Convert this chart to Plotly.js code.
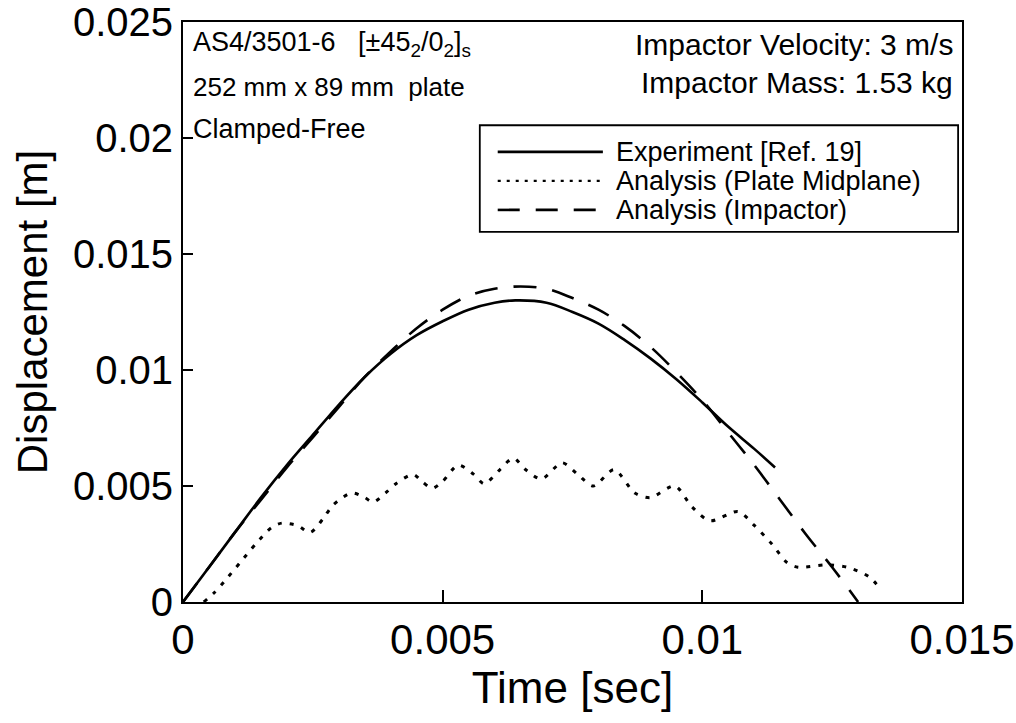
<!DOCTYPE html>
<html>
<head>
<meta charset="utf-8">
<script src="https://cdn.plot.ly/plotly-3.0.1.min.js"></script>
<style>html,body{margin:0;padding:0;background:#fff;}#chart{width:1016px;height:723px;}</style>
</head>
<body>
<div id="chart"></div>
<script>
// Experiment [Ref. 19]
const expTime = [0, 0.0005, 0.001, 0.0015, 0.002, 0.0025, 0.003, 0.0035, 0.004, 0.0045, 0.005, 0.0055, 0.006, 0.0064, 0.007, 0.0075, 0.008, 0.0085, 0.009, 0.0095, 0.010, 0.0105, 0.011, 0.0114];
const expDisp = [0, 0.0015, 0.0030, 0.0045, 0.0059, 0.0072, 0.0085, 0.0097, 0.0107, 0.0115, 0.0121, 0.0126, 0.0129, 0.0130, 0.0129, 0.0125, 0.0120, 0.0113, 0.0105, 0.0096, 0.0086, 0.00755, 0.0066, 0.0058];

// Analysis (Plate Midplane)
const plateTime = [0.0004, 0.0006, 0.0008, 0.0011, 0.0014, 0.0017, 0.0019, 0.0022, 0.00245, 0.0027, 0.0029, 0.00325, 0.0035, 0.00366, 0.0039, 0.0041, 0.00443, 0.0046, 0.0048, 0.005, 0.0053, 0.0056, 0.0058, 0.0061, 0.00636, 0.0066, 0.0069, 0.0073, 0.0076, 0.0079, 0.0083, 0.0087, 0.0090, 0.00947, 0.0098, 0.01015, 0.01069, 0.0110, 0.01134, 0.01163, 0.01184, 0.0124, 0.01279, 0.0132, 0.01342];
const plateDisp = [0, 0.0004, 0.0009, 0.0017, 0.0025, 0.0032, 0.0034, 0.0033, 0.0030, 0.0036, 0.0042, 0.0047, 0.0045, 0.0043, 0.0047, 0.0051, 0.0055, 0.0052, 0.0049, 0.0052, 0.0059, 0.0055, 0.0051, 0.0057, 0.0062, 0.0057, 0.0053, 0.0060, 0.0055, 0.0050, 0.0057, 0.0047, 0.0045, 0.0050, 0.0041, 0.0035, 0.0039, 0.0033, 0.0025, 0.0017, 0.0015, 0.0016, 0.0015, 0.0011, 0.0006];

// Analysis (Impactor)
const impTime = [0, 0.0005, 0.001, 0.0015, 0.002, 0.0025, 0.003, 0.0035, 0.004, 0.0045, 0.005, 0.0055, 0.006, 0.0065, 0.007, 0.0075, 0.008, 0.0085, 0.009, 0.0095, 0.010, 0.0105, 0.011, 0.0115, 0.012, 0.0125, 0.013];
const impDisp = [0, 0.0015, 0.0030, 0.0044, 0.0058, 0.0071, 0.0084, 0.0097, 0.0108, 0.0118, 0.0126, 0.0132, 0.0135, 0.0136, 0.0135, 0.0131, 0.0126, 0.0119, 0.0110, 0.0099, 0.0087, 0.0073, 0.0059, 0.0044, 0.0029, 0.0015, 0.0];

const seriesNames = ['Experiment [Ref. 19]', 'Analysis (Plate Midplane)', 'Analysis (Impactor)'];
const xTickVals = [0, 0.005, 0.01, 0.015];
const xTickText = ['0', '0.005', '0.01', '0.015'];
const yTickVals = [0, 0.005, 0.01, 0.015, 0.02, 0.025];
const yTickText = ['0', '0.005', '0.01', '0.015', '0.02', '0.025'];

const FONT = 'Liberation Sans, Arial, Helvetica, sans-serif';

const traces = [
  {x: expTime, y: expDisp, name: seriesNames[0], mode: 'lines', line: {color: '#000', width: 2.6, shape: 'spline', smoothing: 1}, showlegend: false},
  {x: plateTime, y: plateDisp, name: seriesNames[1], mode: 'lines', line: {color: '#000', width: 3, dash: '4px,8px', shape: 'spline', smoothing: 0.8}, showlegend: false},
  {x: impTime, y: impDisp, name: seriesNames[2], mode: 'lines', line: {color: '#000', width: 2.6, dash: '23px,16px', shape: 'spline', smoothing: 1}, showlegend: false}
];

// manual legend (long line samples as in the original figure)
const legY = [0.776, 0.726, 0.676];
const legDash = ['solid', '3px,6px', '22px,16px'];
const shapes = [
  {type: 'rect', xref: 'paper', yref: 'paper', x0: 0.381, x1: 0.995, y0: 0.638, y1: 0.822, line: {color: '#000', width: 1.8}, fillcolor: 'rgba(0,0,0,0)'}
];
const annotations = [];
for (let i = 0; i < 3; i++) {
  shapes.push({type: 'line', xref: 'paper', yref: 'paper', x0: 0.404, x1: 0.539, y0: legY[i], y1: legY[i], line: {color: '#000', width: i === 1 ? 2.2 : 2.6, dash: legDash[i]}});
  annotations.push({xref: 'paper', yref: 'paper', x: 0.553, y: legY[i], xanchor: 'left', yanchor: 'middle', showarrow: false, text: seriesNames[i], font: {family: FONT, size: 27, color: '#000'}});
}
annotations.push(
  {xref: 'paper', yref: 'paper', x: 0.010, y: 0.962, xanchor: 'left', yanchor: 'middle', showarrow: false, text: 'AS4/3501-6   [±45<sub>2</sub>/0<sub>2</sub>]<sub>s</sub>', font: {family: FONT, size: 27, color: '#000'}},
  {xref: 'paper', yref: 'paper', x: 0.010, y: 0.888, xanchor: 'left', yanchor: 'middle', showarrow: false, text: '252 mm x 89 mm  plate', font: {family: FONT, size: 26, color: '#000'}},
  {xref: 'paper', yref: 'paper', x: 0.010, y: 0.815, xanchor: 'left', yanchor: 'middle', showarrow: false, text: 'Clamped-Free', font: {family: FONT, size: 27, color: '#000'}},
  {xref: 'paper', yref: 'paper', x: 0.991, y: 0.962, xanchor: 'right', yanchor: 'middle', showarrow: false, text: 'Impactor Velocity: 3 m/s', font: {family: FONT, size: 30, color: '#000'}},
  {xref: 'paper', yref: 'paper', x: 0.991, y: 0.895, xanchor: 'right', yanchor: 'middle', showarrow: false, text: 'Impactor Mass: 1.53 kg', font: {family: FONT, size: 30, color: '#000'}}
);

const layout = {
  width: 1016, height: 723,
  margin: {l: 183, r: 54, t: 22, b: 121},
  paper_bgcolor: '#fff', plot_bgcolor: '#fff',
  showlegend: false,
  font: {family: FONT, color: '#000'},
  xaxis: {
    range: [0, 0.015], tickvals: xTickVals, ticktext: xTickText,
    ticks: 'inside', ticklen: 12, tickwidth: 2, tickcolor: '#000',
    showline: true, linecolor: '#000', linewidth: 2, mirror: true,
    showgrid: false, zeroline: false, automargin: false,
    tickfont: {family: FONT, size: 42, color: '#000'},
    title: {text: 'Time [sec]', font: {family: FONT, size: 44, color: '#000'}, standoff: 0}
  },
  yaxis: {
    range: [0, 0.025], tickvals: yTickVals, ticktext: yTickText,
    ticks: 'inside', ticklen: 10, tickwidth: 2, tickcolor: '#000',
    showline: true, linecolor: '#000', linewidth: 2, mirror: true,
    showgrid: false, zeroline: false, automargin: false,
    tickfont: {family: FONT, size: 40, color: '#000'},
    title: {text: 'Displacement [m]', font: {family: FONT, size: 42, color: '#000'}, standoff: 12}
  },
  shapes: shapes,
  annotations: annotations
};

Plotly.newPlot('chart', traces, layout, {staticPlot: true, displayModeBar: false});
</script>
</body>
</html>
